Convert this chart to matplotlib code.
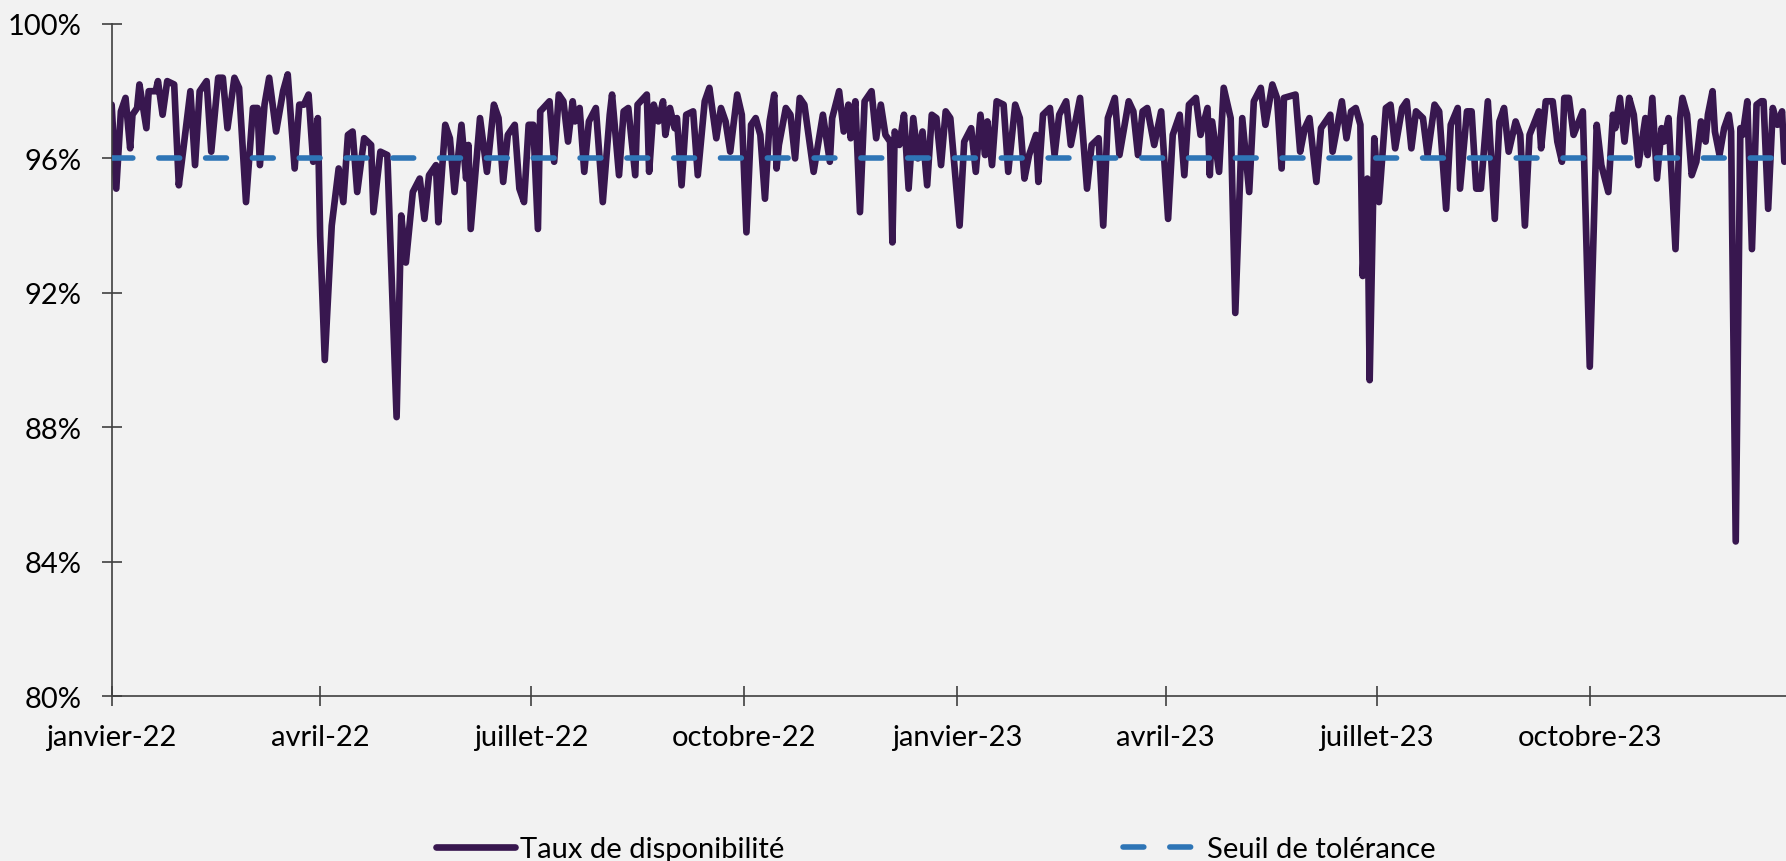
"""Taux de disponibilité quotidien vs seuil de tolérance (janv. 2022 - déc. 2023)."""

import matplotlib

matplotlib.use("Agg")
import matplotlib.pyplot as plt
from matplotlib.lines import Line2D
import pandas as pd

DEBUT = pd.Timestamp("2022-01-01")
FIN_AXE = 722.7  # jours visibles après DEBUT
SEUIL = 96.0

# jours depuis le 1er janvier 2022 / taux de disponibilité (%)
JOURS_S1_22 = [0, 2, 4, 6, 8, 9, 11, 12, 15, 16, 19, 20, 22, 24, 27, 29, 31, 34, 36, 38,
               41, 43, 46, 48, 50, 53, 55, 58, 61, 63, 64, 66, 68, 71, 74, 76, 79, 81, 83, 85,
               87, 89, 90, 92, 95, 98, 100, 102, 104, 106, 109, 112, 113, 116, 119, 123, 125,
               127, 130, 133, 135, 137, 140, 141, 144, 146, 148, 151, 153, 154, 155, 159, 162,
               165, 167, 169, 171, 174, 176, 178, 180]
TAUX_S1_22 = [97.6, 95.1, 97.4, 97.8, 96.3, 97.3, 97.5, 98.2, 96.9, 98.0, 98.0, 98.3, 97.3,
              98.3, 98.2, 95.2, 96.3, 98.0, 95.8, 98.0, 98.3, 96.2, 98.4, 98.4, 96.9, 98.4,
              98.1, 94.7, 97.5, 97.5, 95.8, 97.6, 98.4, 96.8, 98.0, 98.5, 95.7, 97.6, 97.6,
              97.9, 95.9, 97.2, 93.7, 90.0, 94.0, 95.7, 94.7, 96.7, 96.8, 95.0, 96.6, 96.4,
              94.4, 96.2, 96.1, 88.3, 94.3, 92.9, 95.0, 95.4, 94.2, 95.5, 95.8, 94.1, 97.0,
              96.6, 95.0, 97.0, 95.4, 96.4, 93.9, 97.2, 95.6, 97.6, 97.2, 95.3, 96.7, 97.0,
              95.1, 94.7, 97.0]

JOURS_S2_22 = [182, 184, 185, 189, 191, 193, 195, 197, 199, 200, 202, 204, 206, 209, 212, 215,
               216, 219, 221, 223, 226, 227, 231, 232, 234, 236, 238, 239, 241, 243, 244, 246,
               248, 251, 253, 256, 258, 261, 263, 265, 267, 270, 272, 274, 276, 278, 280, 282,
               284, 286, 287, 288, 291, 293, 295, 297, 299, 303, 307, 310, 311, 314, 316, 318,
               319, 321, 323, 325, 328, 330, 332, 334, 336, 337, 338, 340, 342, 344, 346, 348,
               350, 352, 354, 356, 358, 360, 362]
TAUX_S2_22 = [97.0, 93.9, 97.4, 97.7, 95.9, 97.9, 97.7, 96.5, 97.7, 97.1, 97.5, 95.6, 97.1,
              97.5, 94.7, 97.3, 97.9, 95.5, 97.4, 97.5, 95.5, 97.6, 97.9, 95.6, 97.6, 97.1,
              97.7, 96.7, 97.5, 96.9, 97.2, 95.2, 97.3, 97.4, 95.5, 97.7, 98.1, 96.6, 97.5,
              97.1, 96.2, 97.9, 97.3, 93.8, 97.0, 97.2, 96.7, 94.8, 97.1, 97.9, 95.7, 96.4,
              97.5, 97.3, 96.0, 97.8, 97.6, 95.6, 97.3, 95.9, 97.2, 98.0, 96.8, 97.6, 96.6,
              97.7, 94.4, 97.7, 98.0, 96.6, 97.6, 96.7, 96.5, 93.5, 96.8, 96.4, 97.3, 95.1,
              97.2, 96.0, 96.8, 95.2, 97.3, 97.2, 95.8, 97.4, 97.2]

JOURS_S1_23 = [366, 368, 371, 373, 375, 377, 378, 380, 382, 385, 387, 390, 392, 394, 396, 399,
               400, 402, 405, 407, 409, 412, 414, 418, 421, 423, 426, 428, 430, 433, 435, 439,
               441, 443, 445, 447, 450, 453, 456, 458, 461, 463, 465, 468, 470, 473, 474, 475,
               478, 480, 483, 485, 488, 491, 493, 496, 498, 501, 503, 505, 506, 511, 513, 515,
               517, 520, 522, 526, 527, 531, 533, 535, 537, 539, 540, 542, 543]
TAUX_S1_23 = [94.0, 96.5, 96.9, 95.6, 97.3, 96.1, 97.1, 95.8, 97.7, 97.6, 95.6, 97.6, 97.2,
              95.4, 96.1, 96.7, 95.3, 97.3, 97.5, 96.1, 97.3, 97.7, 96.4, 97.8, 95.1, 96.4,
              96.6, 94.0, 97.2, 97.8, 96.1, 97.7, 97.4, 96.1, 97.4, 97.5, 96.4, 97.4, 94.2,
              96.7, 97.3, 95.5, 97.6, 97.8, 96.7, 97.5, 95.5, 97.1, 95.6, 98.1, 97.2, 91.4,
              97.2, 95.0, 97.7, 98.1, 97.0, 98.2, 97.8, 95.7, 97.8, 97.9, 96.2, 96.9, 97.2,
              95.3, 96.9, 97.3, 96.2, 97.7, 96.6, 97.4, 97.5, 97.0, 92.5, 95.4, 89.4]

JOURS_S2_23 = [545, 547, 550, 552, 554, 557, 559, 561, 563, 566, 568, 571, 573, 576, 578, 581,
               582, 585, 587, 589, 591, 594, 597, 599, 601, 603, 606, 608, 610, 612, 616, 617,
               619, 622, 624, 626, 627, 629, 631, 635, 638, 641, 643, 646, 648, 649, 651, 653,
               655, 657, 659, 662, 663, 665, 667, 669, 670, 672, 675, 677, 678, 680, 682, 684,
               686, 688, 689, 691, 692, 694, 696, 698, 699, 701, 703, 704, 706, 708, 710, 712,
               713, 715, 717, 719, 721, 722]
TAUX_S2_23 = [96.6, 94.7, 97.5, 97.6, 96.3, 97.5, 97.7, 96.3, 97.4, 97.2, 96.1, 97.6, 97.4,
              94.5, 97.0, 97.5, 95.1, 97.4, 97.4, 95.1, 95.1, 97.7, 94.2, 97.1, 97.5, 96.2,
              97.1, 96.7, 94.0, 96.7, 97.4, 96.3, 97.7, 97.7, 96.5, 95.9, 97.8, 97.8, 96.7,
              97.4, 89.8, 97.0, 95.8, 95.0, 97.3, 96.9, 97.8, 96.5, 97.8, 97.3, 95.8, 97.2,
              96.1, 97.8, 95.4, 96.9, 96.5, 97.2, 93.3, 97.2, 97.8, 97.3, 95.5, 95.9, 97.1,
              96.5, 97.3, 98.0, 96.8, 96.1, 96.9, 97.3, 96.8, 84.6, 96.9, 96.7, 97.7, 93.3,
              97.6, 97.7, 97.7, 94.5, 97.5, 97.0, 97.4, 95.9]

TICK_DATES = ["2022-01-01", "2022-04-01", "2022-07-01", "2022-10-01",
              "2023-01-01", "2023-04-01", "2023-07-01", "2023-10-01"]
TICK_LABELS = ["janvier-22", "avril-22", "juillet-22", "octobre-22",
               "janvier-23", "avril-23", "juillet-23", "octobre-23"]
Y_TICKS = [80, 84, 88, 92, 96, 100]

VIOLET = "#38174F"
BLEU = "#2E75B6"
FOND = "#F2F2F2"
AXE = "#404040"

plt.rcParams["font.family"] = ["Lato", "DejaVu Sans"]
plt.rcParams["lines.scale_dashes"] = False

jours = JOURS_S1_22 + JOURS_S2_22 + JOURS_S1_23 + JOURS_S2_23
taux = TAUX_S1_22 + TAUX_S2_22 + TAUX_S1_23 + TAUX_S2_23
dates = DEBUT + pd.to_timedelta(jours, unit="D")
fin = DEBUT + pd.to_timedelta(FIN_AXE, unit="D")

fig = plt.figure(figsize=(17.86, 8.62), dpi=100, facecolor=FOND)
ax = fig.add_axes([0.0625, 0.1914, 0.9375, 0.7796], facecolor=FOND)

ax.plot(dates, taux, color=VIOLET, lw=4.8, solid_joinstyle="round",
        solid_capstyle="round", zorder=2)
ax.plot([DEBUT, fin], [SEUIL, SEUIL], color=BLEU, lw=4.0,
        dashes=(15, 18.7), dash_capstyle="round", zorder=3)

ax.set_xlim(DEBUT, fin)
ax.set_ylim(80, 100)
ax.set_yticks(Y_TICKS)
ax.set_yticklabels([f"{v}%" for v in Y_TICKS])
ax.set_xticks(pd.to_datetime(TICK_DATES))
ax.set_xticklabels(TICK_LABELS)

for side in ("top", "right"):
    ax.spines[side].set_visible(False)
for side in ("left", "bottom"):
    ax.spines[side].set_color(AXE)
    ax.spines[side].set_linewidth(1.2)

ax.tick_params(axis="y", direction="inout", length=15, width=1.2, color=AXE,
               pad=14, labelsize=21, labelcolor="black")
ax.tick_params(axis="x", direction="inout", length=15, width=1.2, color=AXE,
               pad=13, labelsize=21, labelcolor="black")

handles = [
    Line2D([], [], color=VIOLET, lw=4.8, solid_capstyle="round"),
    Line2D([], [], color=BLEU, lw=4.0, dashes=(15, 18.7), dash_capstyle="round"),
]
fig.legend(handles, ["Taux de disponibilité", "Seuil de tolérance"],
           loc="center left", bbox_to_anchor=(436 / 1786, 1 - 850 / 862),
           ncol=2, frameon=False, fontsize=21, handlelength=2.7,
           handletextpad=0.19, columnspacing=11.6, borderpad=0, borderaxespad=0)

fig.savefig("out.png", dpi=100, facecolor=FOND)
